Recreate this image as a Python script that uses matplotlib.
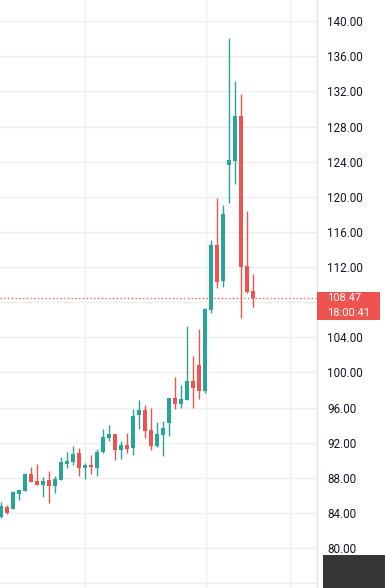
import numpy as np
import matplotlib
matplotlib.use("Agg")
import matplotlib.pyplot as plt
from matplotlib.patches import Rectangle
from matplotlib.transforms import IdentityTransform

# ---- data ----
opens = [83.54, 84.68, 84.49, 86.16, 86.47, 88.48, 87.61, 87.15, 87.80, 87.04,
         87.72, 89.54, 89.84, 90.85, 89.14, 89.40, 89.14, 90.96, 92.56, 92.94,
         91.15, 91.68, 91.34, 95.14, 95.68, 93.41, 91.62, 92.87, 94.28, 97.05,
         96.44, 96.90, 98.98, 100.80, 97.86, 107.13, 114.50, 110.42, 123.66, 124.11,
         129.16, 112.08, 109.23]
highs = [85.20, 84.95, 86.46, 86.66, 88.56, 89.24, 89.54, 88.10, 88.82, 88.18,
         90.38, 90.95, 91.63, 91.42, 89.71, 90.54, 91.23, 93.58, 93.96, 92.94,
         92.18, 93.05, 95.78, 96.85, 96.25, 95.99, 94.40, 94.47, 97.05, 99.45,
         98.60, 105.30, 101.85, 104.95, 107.30, 115.07, 119.81, 119.03, 138.08, 133.15,
         131.71, 118.42, 111.21]
lows = [83.45, 83.85, 84.45, 85.52, 86.47, 87.49, 87.15, 85.78, 85.14, 86.28,
        87.70, 89.13, 89.47, 88.19, 87.81, 88.38, 88.19, 90.85, 92.18, 90.01,
        90.09, 90.85, 90.58, 93.51, 92.57, 91.20, 91.55, 90.45, 92.70, 95.87,
        95.90, 96.80, 95.90, 96.98, 97.70, 106.80, 109.63, 109.77, 119.25, 121.46,
        106.16, 109.10, 107.41]
closes = [84.76, 84.00, 86.35, 86.58, 88.44, 87.49, 87.15, 87.68, 87.04, 87.87,
          89.77, 89.88, 90.65, 89.06, 89.40, 89.21, 90.96, 92.67, 92.94, 91.11,
          91.68, 91.23, 95.02, 95.69, 93.33, 91.62, 92.93, 93.63, 97.05, 96.44,
          97.00, 99.00, 98.24, 97.86, 107.20, 114.50, 110.28, 118.00, 124.19, 129.16,
          112.04, 109.12, 108.47]
grid_levels = list(range(76, 141, 4))
price_labels = [80, 84, 88, 92, 96, 100, 104, 112, 116, 120, 124, 128, 132, 136, 140]
last_price_label = "108.47"
countdown_label = "18:00:41"

# ---- style ----
UP = "#26a69a"
DOWN = "#ef5350"
GRID = "#eeeeee"
TEXT = "#131722"
FONT = ["Roboto", "DejaVu Sans"]

W, H = 385, 588
fig = plt.figure(figsize=(W / 100, H / 100), dpi=100)
fig.patch.set_facecolor("white")
plot_w = 317
ax = fig.add_axes([0, 0, plot_w / W, 1])
ax.set_facecolor("white")

n = len(opens)
idx = np.arange(n)
o = np.array(opens); c = np.array(closes)
hi = np.array(highs); lo = np.array(lows)
colors = [UP if cc >= oo else DOWN for oo, cc in zip(o, c)]

ax.vlines(idx, lo, hi, colors=colors, linewidth=1.0, zorder=3)
body_bottom = np.minimum(o, c)
body_h = np.maximum(np.abs(c - o), 0.08)
ax.bar(idx, body_h, bottom=body_bottom, width=0.72, color=colors,
       linewidth=0, zorder=4)

# axes limits: 6 px per bar, first bar centre at x=1.3 px
spacing = 6.0
ax.set_xlim(-1.3 / spacing, (plot_w - 1.3) / spacing)
px_per_unit = 8.78
ax.set_ylim(80 - (H - 548) / px_per_unit, 80 + 548 / px_per_unit)

# grid
for t in grid_levels:
    ax.axhline(t, color=GRID, linewidth=1.0, zorder=0)
for gx in [14.0, 34.05, 48.1]:
    ax.axvline(gx, color=GRID, linewidth=1.0, zorder=0)

ax.set_yticks(price_labels)
ax.set_yticklabels([f"{t:.2f}" for t in price_labels])
ax.set_xticks([])
ax.yaxis.tick_right()
ax.tick_params(axis="y", length=0, pad=7.3, labelsize=8.4, labelcolor=TEXT)
for lab in ax.get_yticklabels():
    lab.set_family(FONT)
for s in ["left", "top", "bottom"]:
    ax.spines[s].set_visible(False)
ax.spines["right"].set_color("#e0e3eb")
ax.spines["right"].set_linewidth(1.0)

# last price dotted line
last = closes[-1]
ax.axhline(last, color=DOWN, linewidth=0.9, linestyle=(0, (1, 2)), zorder=5)

# price label box (in pixel coordinates)
fig.canvas.draw()
y_pix = ax.transData.transform((0, last))[1]
box = Rectangle((plot_w, y_pix - 22.4), 63, 28, transform=IdentityTransform(),
                facecolor=DOWN, edgecolor="none", zorder=5)
fig.add_artist(box)
fig.text(327 / W, y_pix / H, last_price_label, color="white", fontsize=8.0,
         family=FONT, ha="left", va="center", zorder=6)
fig.text(327 / W, (y_pix - 15.2) / H, countdown_label, color="white", fontsize=8.0,
         family=FONT, ha="left", va="center", zorder=6)

# dark corner block bottom-right
corner = Rectangle((322.7 / W, 0), (W - 322.7) / W, 33 / H, transform=fig.transFigure,
                   facecolor="#363636", edgecolor="none", zorder=5)
fig.add_artist(corner)

fig.savefig("out.png", dpi=100)
